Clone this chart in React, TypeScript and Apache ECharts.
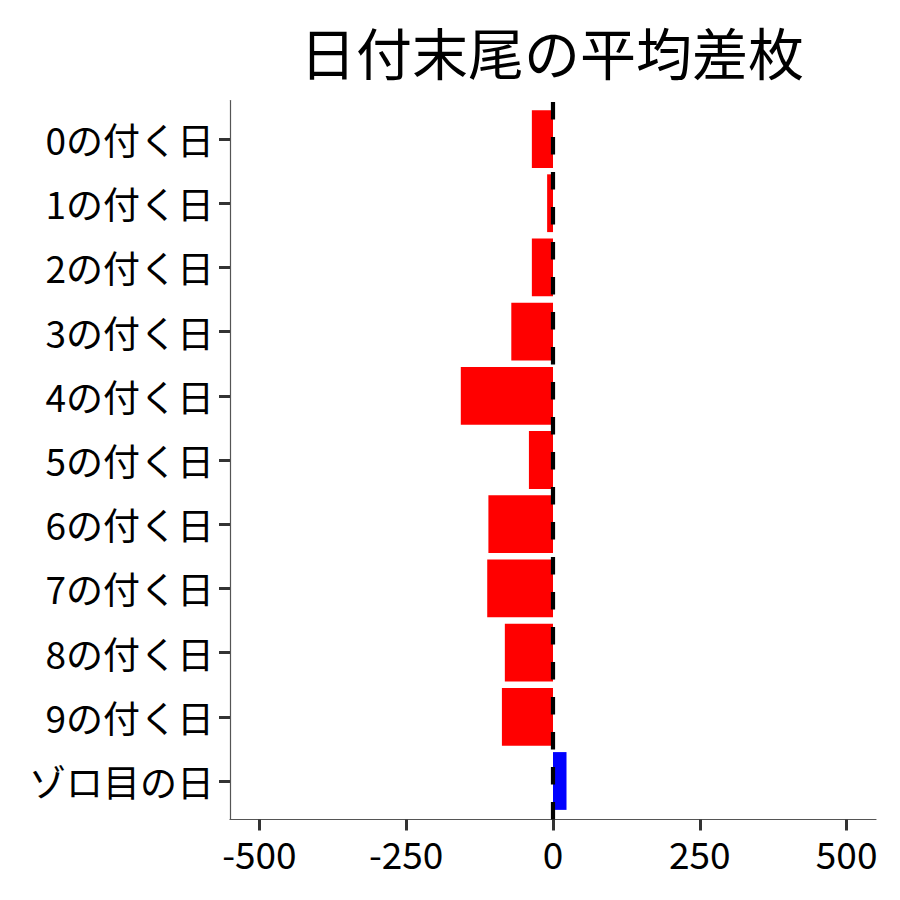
import React, { useEffect, useRef } from "react";
import * as echarts from "echarts";

const TITLE = "日付末尾の平均差枚";
const categories = [
  "0の付く日",
  "1の付く日",
  "2の付く日",
  "3の付く日",
  "4の付く日",
  "5の付く日",
  "6の付く日",
  "7の付く日",
  "8の付く日",
  "9の付く日",
  "ゾロ目の日",
];
const values = [-36, -10, -36, -71, -157, -41, -110, -112, -82, -87, 23];
const xTicks = [-500, -250, 0, 250, 500];
const xMin = -550;
const xMax = 550;

const FONT = "'Noto Sans CJK JP', 'Noto Sans', sans-serif";

export default function App() {
  const ref = useRef<HTMLDivElement>(null);
  useEffect(() => {
    document.body.style.margin = "0";
    if (!ref.current) return;
    const chart = echarts.init(ref.current, null, { renderer: "svg" });
    const idx = categories.map((_, i) => i);
    const barData = values.map((v, i) => [v, i]);
    chart.setOption({
      animation: false,
      textStyle: { fontFamily: FONT },
      grid: { left: 230, right: 24, top: 100.5, bottom: 80.5, containLabel: false },
      graphic: [
        {
          type: "text",
          x: 552,
          y: 50,
          style: {
            text: TITLE,
            fontSize: 56,
            fontFamily: FONT,
            fill: "#000",
            textAlign: "center",
            textVerticalAlign: "middle",
          },
        },
      ],
      xAxis: {
        type: "value",
        min: xMin,
        max: xMax,
        splitLine: { show: false },
        axisLine: { show: true, onZero: false, lineStyle: { color: "#555", width: 1.2 } },
        axisTick: {
          show: true,
          customValues: xTicks,
          length: 11,
          lineStyle: { color: "#333", width: 3 },
        },
        axisLabel: {
          customValues: xTicks,
          fontSize: 37,
          color: "#000",
          margin: 15,
          fontFamily: FONT,
        },
      },
      yAxis: {
        type: "value",
        min: -0.6,
        max: categories.length - 0.4,
        inverse: true,
        splitLine: { show: false },
        axisLine: { show: true, onZero: false, lineStyle: { color: "#555", width: 1.2 } },
        axisTick: {
          show: true,
          customValues: idx,
          length: 11,
          lineStyle: { color: "#333", width: 3 },
        },
        axisLabel: {
          customValues: idx,
          fontSize: 37,
          color: "#000",
          margin: 16,
          fontFamily: FONT,
          formatter: (v: number) => categories[Math.round(v)] ?? "",
        },
      },
      series: [
        {
          type: "custom",
          data: barData,
          encode: { x: 0, y: 1 },
          z: 2,
          renderItem: (params: any, api: any) => {
            const v = api.value(0);
            const c = api.value(1);
            const start = api.coord([0, c]);
            const end = api.coord([v, c]);
            const h = Math.abs(api.size([0, 0.9])[1]);
            return {
              type: "rect",
              shape: {
                x: Math.min(start[0], end[0]),
                y: start[1] - h / 2,
                width: Math.abs(end[0] - start[0]),
                height: h,
              },
              style: { fill: v >= 0 ? "#0000FF" : "#FF0000" },
            };
          },
        },
        {
          type: "line",
          data: [
            [0, categories.length - 0.4],
            [0, -0.6],
          ],
          symbol: "none",
          z: 5,
          lineStyle: { color: "#000", width: 4.2, type: [17.5, 17.5] },
        },
      ],
    });
    return () => chart.dispose();
  }, []);
  return <div ref={ref} style={{ width: 900, height: 900 }} />;
}
